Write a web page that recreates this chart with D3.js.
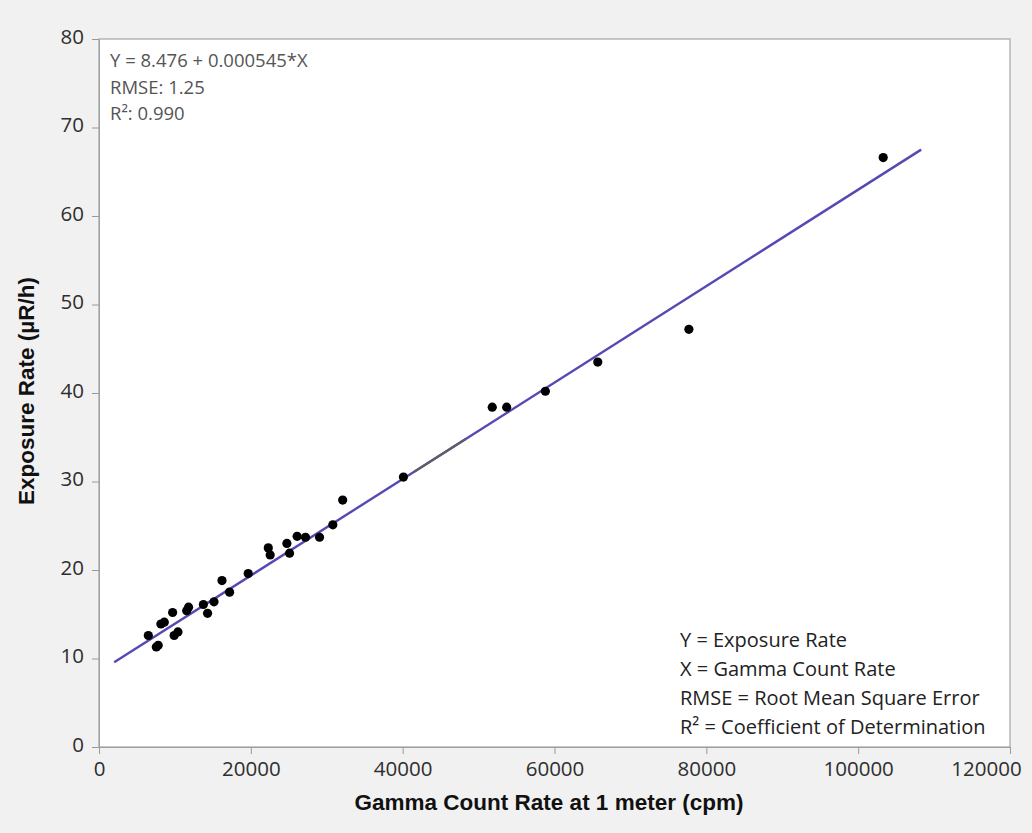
<!DOCTYPE html>
<html>
<head>
<meta charset="utf-8">
<script src="https://cdn.jsdelivr.net/npm/d3@7"></script>
<style>
  body { margin: 0; background: #f1f1f1; }
  svg { display: block; }
  .tick text { font-family: "Open Sans", sans-serif; font-size: 20.5px; fill: #2e2e2e; }
  .axis-title { font-family: "Liberation Sans", Arial, sans-serif; font-weight: bold; font-size: 22.5px; fill: #111; }
  .stats { font-family: "Open Sans", sans-serif; font-size: 18.5px; fill: #555; }
  .legend { font-family: "Open Sans", sans-serif; font-size: 20px; fill: #222; }
</style>
</head>
<body>
<svg id="chart"></svg>
<script>
const width = 1032;
const height = 833;
const margin = { top: 39, right: 22, bottom: 86, left: 99 };
const w = width - margin.left - margin.right;
const h = height - margin.top - margin.bottom;

// gamma count rate (cpm) vs exposure rate (µR/h)
const countRate = [103300, 77700, 65700, 58800, 53700, 51800, 40100, 32100, 30800, 29050,
  27200, 26100, 24750, 25100, 22300, 22550, 19650, 16200, 17200, 15150,
  13750, 14300, 11800, 11550, 9700, 8600, 8150, 10400, 9900, 6500, 7800, 7550];
const exposure = [66.6, 47.2, 43.5, 40.2, 38.4, 38.4, 30.5, 27.9, 25.1, 23.7,
  23.7, 23.8, 23.0, 21.9, 22.5, 21.7, 19.6, 18.8, 17.5, 16.4,
  16.1, 15.1, 15.8, 15.4, 15.2, 14.1, 13.9, 13.0, 12.6, 12.6, 11.5, 11.3];

// fit: Y = 8.476 + 0.000545*X
const intercept = 8.476;
const slope = 0.000545;
const fitRange = [2000, 108300];
const greySegment = [41500, 48300];

const xTicks = [0, 20000, 40000, 60000, 80000, 100000, 120000];
const yTicks = [0, 10, 20, 30, 40, 50, 60, 70, 80];

const statLines = ["Y = 8.476 + 0.000545*X", "RMSE: 1.25", "R²: 0.990"];
const legendLines = ["Y = Exposure Rate", "X = Gamma Count Rate", "RMSE = Root Mean Square Error", "R² = Coefficient of Determination"];

const data = countRate.map((x, i) => ({ x: x, y: exposure[i] }));

const svg = d3.select("#chart")
    .attr("width", width)
    .attr("height", height);

svg.append("rect")
    .attr("width", width)
    .attr("height", height)
    .attr("fill", "#f1f1f1");

const g = svg.append("g")
    .attr("transform", `translate(${margin.left},${margin.top})`);

const xScale = d3.scaleLinear().domain([0, 120000]).range([0, w]);
const yScale = d3.scaleLinear().domain([0, 80]).range([h, 0]);

// plot background
g.append("rect")
    .attr("width", w)
    .attr("height", h)
    .attr("fill", "#fff");

// axes
const xAxis = g.append("g")
    .attr("transform", `translate(0,${h})`)
    .call(d3.axisBottom(xScale).tickValues(xTicks).tickFormat(d => d).tickSize(7).tickSizeOuter(0));
xAxis.selectAll(".tick text").attr("dy", "0.95em");
xAxis.selectAll(".tick:last-of-type text").attr("dx", "-24px");

const yAxis = g.append("g")
    .call(d3.axisLeft(yScale).tickValues(yTicks).tickSize(7).tickSizeOuter(0));
yAxis.selectAll(".tick text").attr("dx", "-5px").attr("dy", "0.2em");

g.selectAll(".domain").attr("stroke", "#999");
g.selectAll(".tick line").attr("stroke", "#999");

// frame
g.append("rect")
    .attr("width", w)
    .attr("height", h)
    .attr("fill", "none")
    .attr("stroke", "#a3a3a3")
    .attr("stroke-width", 1.2);

// fit line
const fit = x => intercept + slope * x;
const line = d3.line().x(d => xScale(d)).y(d => yScale(fit(d)));

g.append("path")
    .datum(fitRange)
    .attr("d", line)
    .attr("fill", "none")
    .attr("stroke", "#5549b3")
    .attr("stroke-width", 2.4);

g.append("path")
    .datum(greySegment)
    .attr("d", line)
    .attr("fill", "none")
    .attr("stroke", "#5e5e66")
    .attr("stroke-width", 2.2);

// points
g.selectAll(".dot")
    .data(data)
    .enter().append("circle")
    .attr("class", "dot")
    .attr("r", 4.6)
    .attr("cx", d => xScale(d.x))
    .attr("cy", d => yScale(d.y))
    .attr("fill", "#000");

// stats text (top left)
g.selectAll(".stats")
    .data(statLines)
    .enter().append("text")
    .attr("class", "stats")
    .attr("x", 11)
    .attr("y", (d, i) => 28 + i * 26.5)
    .text(d => d);

// legend text (bottom right)
g.selectAll(".legend")
    .data(legendLines)
    .enter().append("text")
    .attr("class", "legend")
    .attr("x", 581)
    .attr("y", (d, i) => 608 + i * 29)
    .text(d => d);

// axis titles
svg.append("text")
    .attr("class", "axis-title")
    .attr("x", 549)
    .attr("y", 810)
    .attr("text-anchor", "middle")
    .text("Gamma Count Rate at 1 meter (cpm)");

svg.append("text")
    .attr("class", "axis-title")
    .attr("transform", `translate(34,${margin.top + h / 2 - 2}) rotate(-90)`)
    .attr("text-anchor", "middle")
    .text("Exposure Rate (µR/h)");
</script>
</body>
</html>
